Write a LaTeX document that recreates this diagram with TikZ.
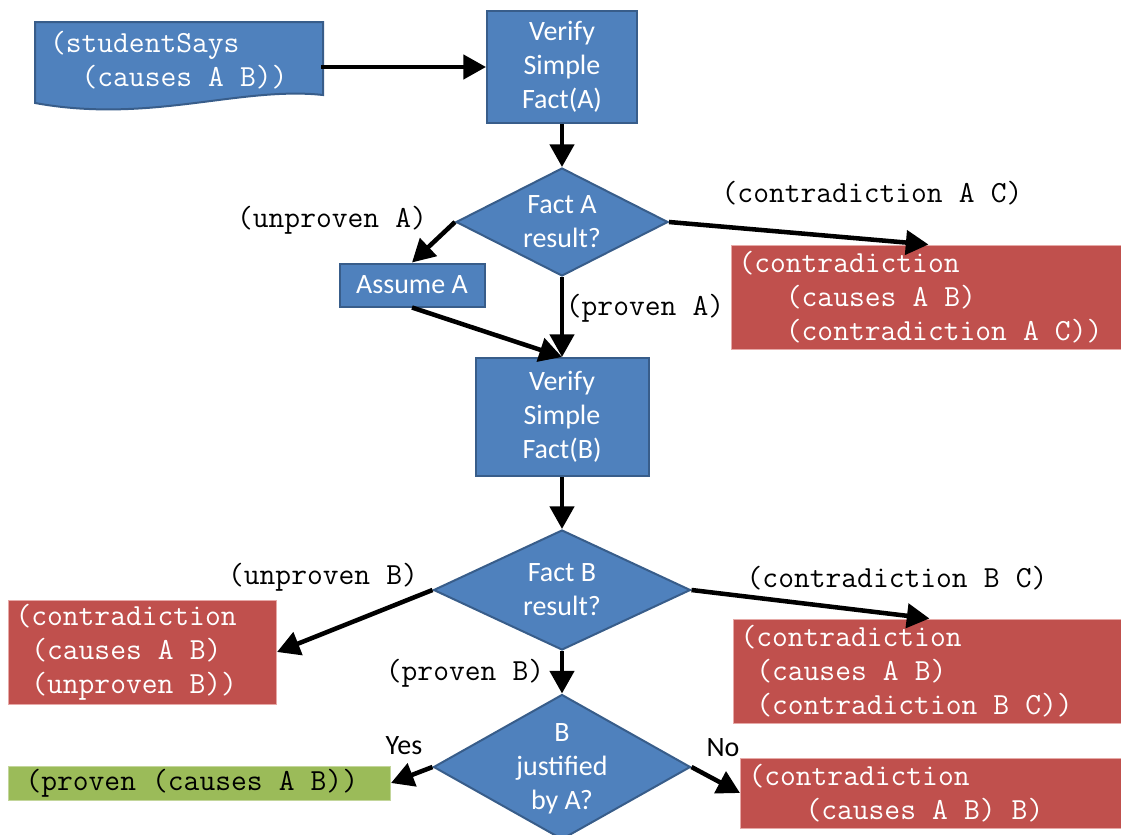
\documentclass[tikz,border=0pt]{standalone}
\usepackage{fontspec}
\newfontfamily\sansf{Carlito}
\usetikzlibrary{shapes.geometric,arrows.meta}
\DeclareRobustCommand\fixsp{\spaceskip=12.075pt\relax}
\definecolor{fblue}{HTML}{4F81BD}
\definecolor{bblue}{HTML}{385D8A}
\definecolor{fred}{HTML}{C0504D}
\definecolor{bred}{HTML}{E6A9A7}
\definecolor{fgreen}{HTML}{9BBB59}
\definecolor{bgreen}{HTML}{C3D69B}
\tikzset{
  monof/.style={font=\ttfamily\fontsize{23}{25.5}\selectfont\fixsp},
  sansfnt/.style={font=\sansf\fontsize{21}{25.5}\selectfont},
  proc/.style={rectangle, fill=fblue, draw=bblue, line width=1.5pt, text=white, sansfnt, align=center, inner sep=0pt},
  decision/.style={diamond, fill=fblue, draw=bblue, line width=1.5pt, inner sep=0pt},
  dtext/.style={text=white, sansfnt, align=center, inner sep=0pt},
  result/.style={rectangle, fill=fred, draw=bred, line width=0.75pt, text=white, monof, align=flush left, inner ysep=0pt, inner xsep=5.25pt, anchor=west},
  okbox/.style={result, fill=fgreen, draw=bgreen, text=black},
  lbl/.style={monof, text=black, inner sep=0pt},
  slbl/.style={sansfnt, text=black, inner sep=0pt},
  arr/.style={draw=black, line width=3.4pt, -{Triangle[length=17pt,width=18pt]}}
}
\begin{document}
\begin{tikzpicture}[x=0.75pt,y=-0.75pt]
\useasboundingbox (0,0) rectangle (1121,835);
\clip (0,0) rectangle (1121,835);
\fill[white] (0,0) rectangle (1121,835);

% document shape
\filldraw[fill=fblue, draw=bblue, line width=1.5pt] (35,22) -- (323,22) -- (323,95)
  .. controls (240,86) and (150,124) .. (35,103) -- cycle;
\node[monof, text=white, align=flush left, text width=190.5pt, inner xsep=12.75pt, inner ysep=0pt, minimum height=57pt] (doc) at (177,60)
  {\fixsp(studentSays\\\hphantom{((}(causes A B))};

% process boxes
\node[proc, minimum width=112.5pt, minimum height=84pt] (vA) at (562,67) {Verify\\Simple\\Fact(A)};
\node[proc, minimum width=108.75pt, minimum height=32.25pt] (asm) at (412,285) {Assume A};
\node[proc, minimum width=129.75pt, minimum height=88.5pt] (vB) at (562,417) {Verify\\Simple\\Fact(B)};

% decisions
\node[decision, minimum width=159pt, minimum height=81pt] (dA) at (562,222) {};
\node[dtext] (dAt) at (dA) {Fact A\\result?};
\node[decision, minimum width=192.75pt, minimum height=90pt] (dB) at (562,590) {};
\node[dtext] (dBt) at (dB) {Fact B\\result?};
\node[decision, minimum width=192.75pt, minimum height=108.75pt] (dC) at (562,767) {};
\node[dtext] (dCt) at (562,769) {B\\justified\\by A?};

% results
\node[result, text width=285pt, minimum height=78pt] (rA) at (731,297)
  {\fixsp(contradiction\\\hphantom{(((}(causes A B)\\\hphantom{(((}(contradiction A C))};
\node[result, text width=190.5pt, minimum height=78pt] (rB) at (8,652)
  {\fixsp(contradiction\\\hphantom{(}(causes A B)\\\hphantom{(}(unproven B))};
\node[result, text width=283.5pt, minimum height=78pt] (rC) at (733,671)
  {\fixsp(contradiction\\\hphantom{(}(causes A B)\\\hphantom{(}(contradiction B C))};
\node[result, text width=276.75pt, inner xsep=6pt, minimum height=52.5pt] (rD) at (740,793)
  {\fixsp(contradiction\\\hspace*{42.75pt}(causes A B) B)};
\node[okbox, text width=261pt, inner xsep=12.75pt, minimum height=25.5pt] (ok) at (8,783)
  {\fixsp(proven (causes A B))};

% connectors
\draw[arr] (doc.east |- vA.west) -- (vA.west);
\draw[arr] (vA.south) -- (dA.north);
\draw[arr] (dA.west) -- (asm.north);
\draw[arr] (asm.south) -- (vB.north);
\draw[arr] (dA.south) -- (vB.north);
\draw[arr] (dA.east) -- (rA.north);
\draw[arr] (vB.south) -- (dB.north);
\draw[arr] (dB.west) -- (rB.east);
\draw[arr] (dB.east) -- (rC.north);
\draw[arr] (dB.south) -- (dC.north);
\draw[arr] (dC.west) -- (ok.east);
\draw[arr] (dC.east) -- (rD.west);

% labels
\node[lbl] (l1) at (332,220) {(unproven A)};
\node[lbl] (l2) at (872,193) {(contradiction A C)};
\node[lbl] (l3) at (645,308) {(proven A)};
\node[lbl] (l4) at (323,577) {(unproven B)};
\node[lbl] (l5) at (897,578) {(contradiction B C)};
\node[lbl] (l6) at (465,673) {(proven B)};
\node[slbl] (l7) at (404,746) {Yes};
\node[slbl] (l8) at (723,748) {No};
\end{tikzpicture}
\end{document}
